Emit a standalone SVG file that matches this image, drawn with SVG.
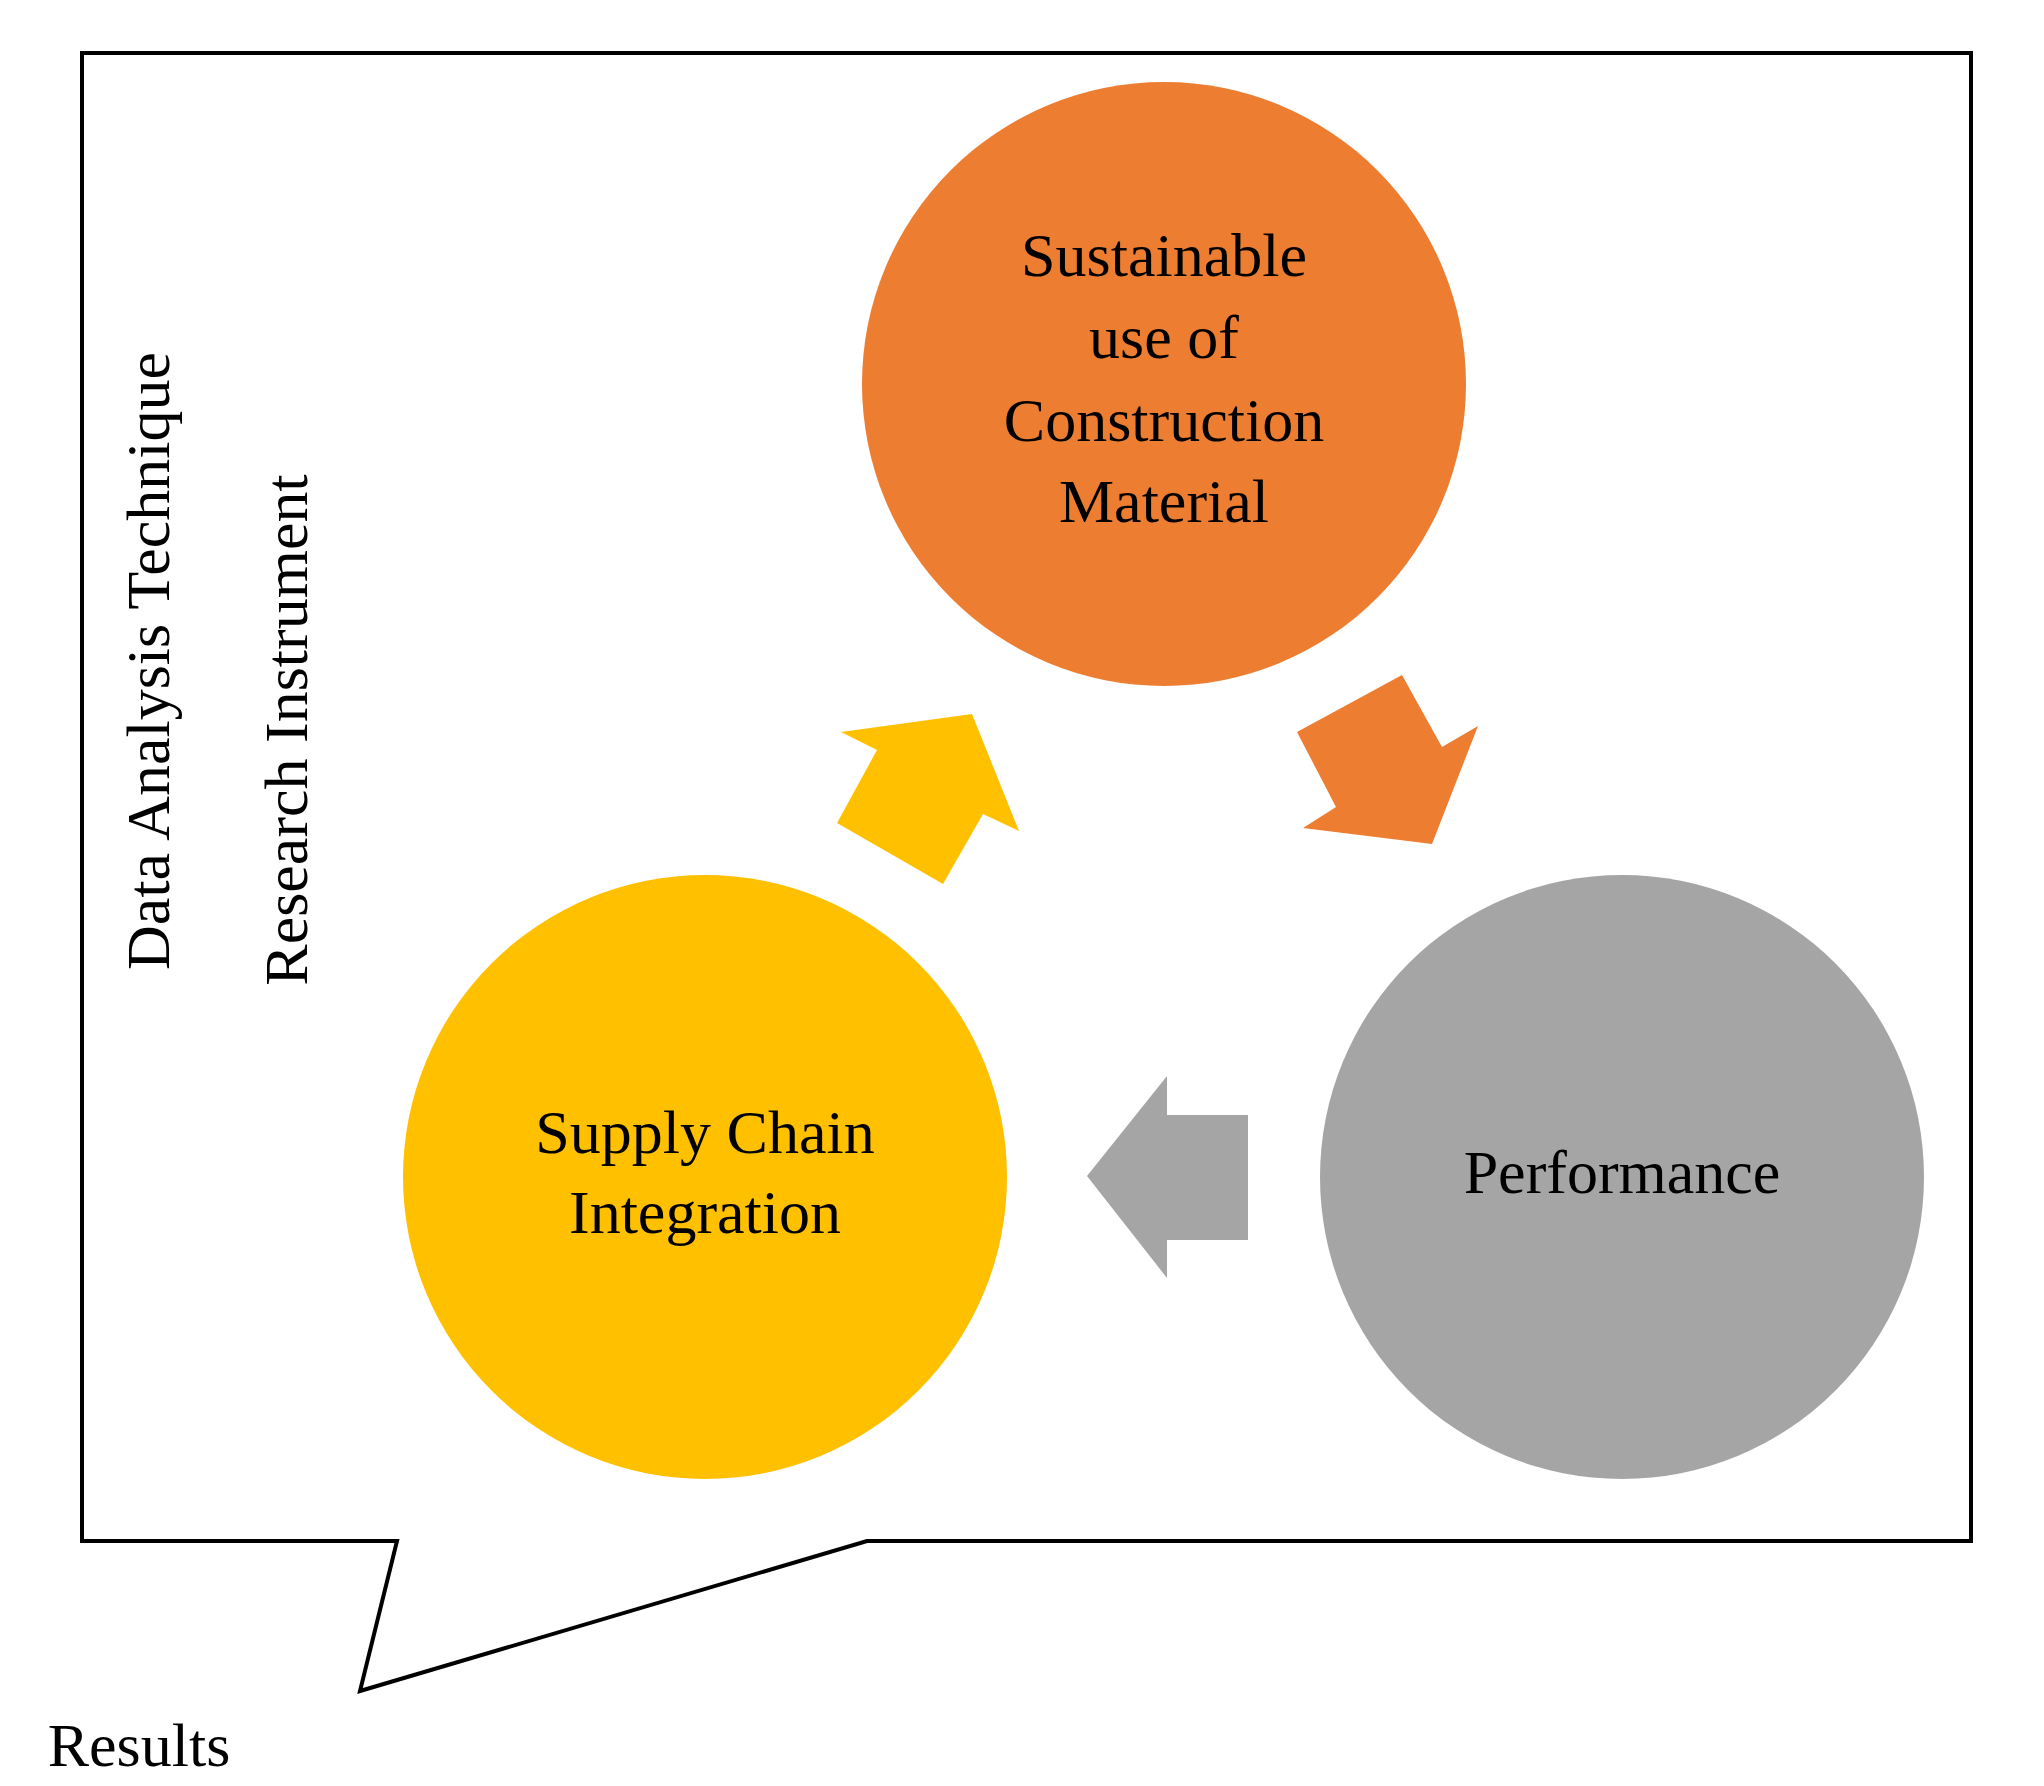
<svg xmlns="http://www.w3.org/2000/svg" width="2044" height="1786" viewBox="0 0 2044 1786">
<style>
text{font-family:"Liberation Serif","DejaVu Serif",serif;fill:#000;font-size:62px;text-anchor:middle}
</style>
<rect width="2044" height="1786" fill="#fff"/>
<g id="frame">
<path d="M82,53 H1971 V1541 H867 L360,1691 L397,1541 H82 Z" fill="none" stroke="#000" stroke-width="4"/>
<text x="139" y="1766" text-anchor="start" font-size="66">Results</text>
<text transform="translate(169,661) rotate(-90)" font-size="66">Data Analysis Technique</text>
<text transform="translate(307,730) rotate(-90)" font-size="66">Research Instrument</text>
</g>
<g id="connectors">
<polygon points="841,732 972,714 1019,831 983,814 943,884 837,823 877,750" fill="#FFC000"/>
<polygon points="1297,732 1402,675 1442,747 1478,726 1432,844 1303,828 1336,807" fill="#ED7D31"/>
<polygon points="1167,1076 1167,1115 1248,1115 1248,1240 1167,1240 1167,1278 1087,1176" fill="#A5A5A5"/>
</g>
<g id="sustainable">
<circle cx="1164" cy="384" r="302" fill="#ED7D31"/>
<text x="1164" y="276">Sustainable</text>
<text x="1164" y="358">use of</text>
<text x="1164" y="441">Construction</text>
<text x="1164" y="522">Material</text>
</g>
<g id="supply">
<circle cx="705" cy="1177" r="302" fill="#FFC000"/>
<text x="705" y="1153">Supply Chain</text>
<text x="705" y="1233">Integration</text>
</g>
<g id="performance">
<circle cx="1622" cy="1177" r="302" fill="#A5A5A5"/>
<text x="1622" y="1193">Performance</text>
</g>
</svg>
